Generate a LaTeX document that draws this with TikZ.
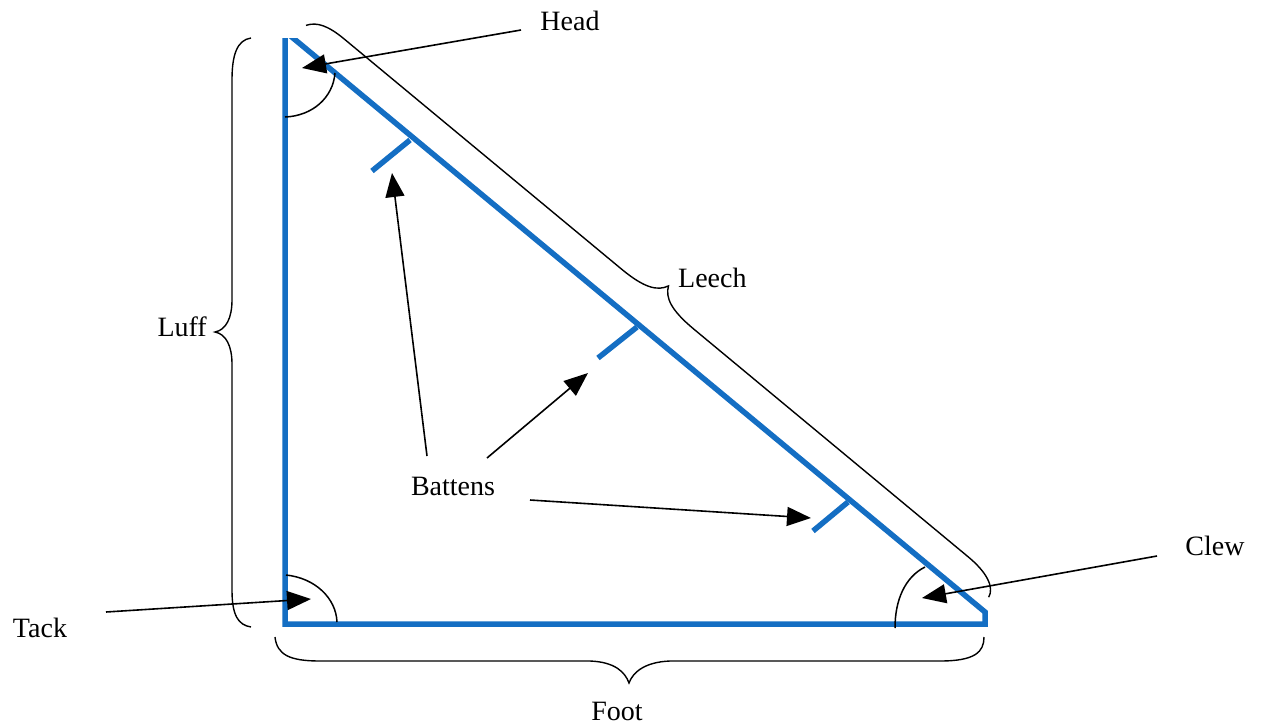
\documentclass[tikz,border=0pt]{standalone}
\usepackage{fontspec}
\setmainfont{Liberation Serif}
\usetikzlibrary{arrows.meta}
\definecolor{sailblue}{RGB}{20,110,195}
\begin{document}
\begin{tikzpicture}[x=1pt,y=-1pt,
  sail/.style={draw=sailblue,line width=5.5pt,line join=miter},
  batten/.style={draw=sailblue,line width=5.5pt},
  lbl/.style={font=\fontsize{28}{32}\selectfont,inner sep=0pt},
  pointer/.style={draw=black,line width=1.6pt,-{Triangle[length=24pt,width=19pt]}},
  curly/.style={draw=black,line width=1.4pt},
  corner/.style={draw=black,line width=1.5pt},
]
\useasboundingbox (0,0) rectangle (1261,726);

% sail outline
\begin{scope}
  \clip (0,38) rectangle (1261,726);
  \draw[sail] (288.2,34) -- (985,612) -- (985,624) -- (285,624) -- (285,30);
\end{scope}

% battens
\draw[batten] (410,140) -- (372,171);
\draw[batten] (637,327) -- (598,358);
\draw[batten] (848,502) -- (813,531);

% corner arcs
\draw[corner] (285,117) .. controls (312,116) and (333,98) .. (335,73);
\draw[corner] (286,575) .. controls (315,578) and (336,598) .. (337,622);
\draw[corner] (925,567) .. controls (905,577) and (895,600) .. (895,628);

% braces
\draw[curly] (251,38) .. controls (237,40) and (232,55) .. (232,80)
  -- (232,300) .. controls (232,318) and (226,330) .. (215,332)
  .. controls (226,334) and (232,346) .. (232,364)
  -- (232,590) .. controls (232,615) and (238,625) .. (251,627);
\draw[curly] (275,637) .. controls (277,655) and (290,661) .. (320,661)
  -- (590,661) .. controls (615,662) and (625,672) .. (629,683)
  .. controls (633,672) and (645,662) .. (670,661)
  -- (940,661) .. controls (975,661) and (984,652) .. (984,637);
\draw[curly] (306,25.4) .. controls (317.1,21.5) and (328.8,26.2) .. (344.2,39.0)
  -- (621.4,269.0) .. controls (644.5,288.2) and (657.6,291.1) .. (668.5,285.9)
  .. controls (665.3,297.5) and (670.7,309.9) .. (693.8,329.1)
  -- (967.9,556.6) .. controls (987.2,572.5) and (994.3,587.4) .. (988.7,597.2);

% labels
\node[lbl,anchor=base] (head) at (570,30) {Head};
\node[lbl,anchor=base west] (leech) at (678,287) {Leech};
\node[lbl,anchor=base east] (luff) at (207,336) {Luff};
\node[lbl,anchor=base] (battens) at (453,495) {Battens};
\node[lbl,anchor=base] (tack) at (40,637) {Tack};
\node[lbl,anchor=base] (clew) at (1215,555) {Clew};
\node[lbl,anchor=base] (foot) at (617,720) {Foot};

% arrow end points
\coordinate (headT) at (521,30);
\coordinate (headP) at (302,68);
\coordinate (b1T) at (427,456);
\coordinate (b1P) at (392,173);
\coordinate (b2T) at (487,458);
\coordinate (b2P) at (588,373);
\coordinate (b3T) at (530,500);
\coordinate (b3P) at (811,518);
\coordinate (tackT) at (106,612);
\coordinate (tackP) at (311,599);
\coordinate (clewT) at (1157,556);
\coordinate (clewP) at (922,598);

\draw[pointer] (headT) -- (headP);
\draw[pointer] (b1T) -- (b1P);
\draw[pointer] (b2T) -- (b2P);
\draw[pointer] (b3T) -- (b3P);
\draw[pointer] (tackT) -- (tackP);
\draw[pointer] (clewT) -- (clewP);
\end{tikzpicture}
\end{document}
